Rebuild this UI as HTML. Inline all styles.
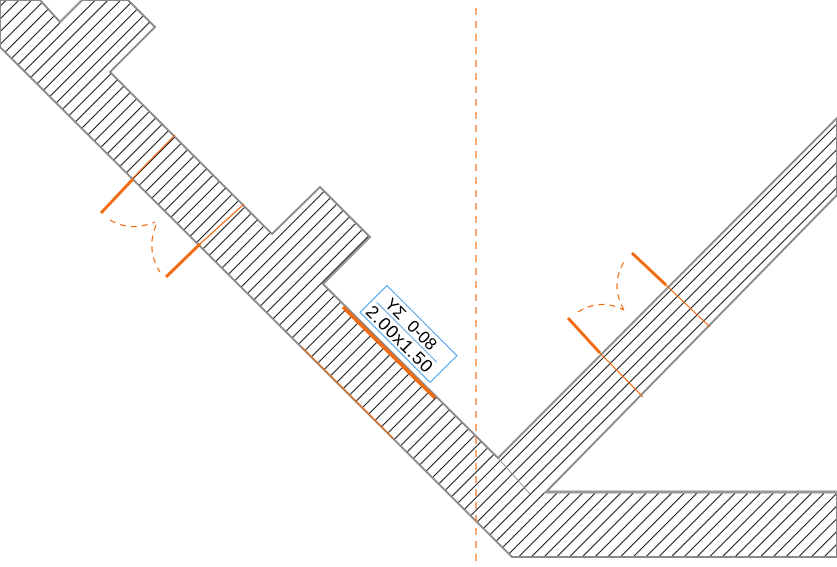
<!DOCTYPE html>
<html><head><meta charset="utf-8"><style>
html,body{margin:0;padding:0;background:#fff;width:837px;height:567px;overflow:hidden}
svg{display:block}
</style></head><body>
<svg width="837" height="567" viewBox="0 0 837 567" xmlns="http://www.w3.org/2000/svg">
<defs>
<pattern id="h" patternUnits="userSpaceOnUse" width="9" height="9" patternTransform="rotate(-45)">
<line x1="0" y1="4.5" x2="9" y2="4.5" stroke="#111" stroke-width="1"/>
</pattern>
</defs>
<polygon points="0,0 40,0 60,22 82,0 128,0 155,27 110,72 272,234 320,187 370,237 323,284 498,458 837,118 837,195 546,492 837,492 837,557 512,557 0,47" fill="url(#h)" stroke="#8a8a8a" stroke-width="2"/>
<line x1="60" y1="22" x2="82" y2="0" stroke="#999" stroke-width="2"/>
<line x1="498" y1="458" x2="530" y2="494" stroke="#999" stroke-width="1"/>
<line x1="546" y1="492" x2="837" y2="492" stroke="#999" stroke-width="3"/>
<line x1="476" y1="8" x2="476" y2="567" stroke="#f07a2a" stroke-width="1.3" stroke-dasharray="7,6"/>
<g stroke="#f26a10" fill="none">
<line x1="101" y1="213" x2="133" y2="179" stroke-width="3"/>
<line x1="133" y1="178" x2="175" y2="135" stroke-width="1.2"/>
<line x1="166" y1="277" x2="200" y2="244" stroke-width="3"/>
<line x1="200" y1="244" x2="244" y2="204" stroke-width="1.2"/>
<path d="M110 220 Q130 232 155 222" stroke-width="1.2" stroke-dasharray="6,5"/>
<path d="M156 225 Q146 250 160 272" stroke-width="1.2" stroke-dasharray="6,5"/>
<line x1="343" y1="307" x2="435" y2="398" stroke-width="3.5"/>
<line x1="302" y1="347" x2="393" y2="438" stroke-width="1.2"/>
<line x1="568" y1="318" x2="600" y2="353" stroke-width="3"/>
<line x1="600" y1="353" x2="643" y2="397" stroke-width="1.2"/>
<line x1="632" y1="253" x2="666" y2="285" stroke-width="3"/>
<line x1="666" y1="285" x2="710" y2="327" stroke-width="1.2"/>
<path d="M578 312 Q600 298 624 310" stroke-width="1.2" stroke-dasharray="6,5"/>
<path d="M624 310 Q610 285 624 262" stroke-width="1.2" stroke-dasharray="6,5"/>
</g>
<g transform="translate(408.5,334) rotate(45)">
<rect x="-49.5" y="-19" width="99" height="38" fill="#fff" stroke="#5aaaf0" stroke-width="1.2"/>
<line x1="-45" y1="0" x2="40" y2="0" stroke="#5aaaf0" stroke-width="1"/>
<text x="-38" y="-3" font-family="Liberation Sans, sans-serif" font-size="17" fill="#000" xml:space="preserve">ΥΣ  0-08</text>
<text x="-46" y="16" font-family="Liberation Sans, sans-serif" font-size="18" fill="#000" textLength="86">2.00x1.50</text>
</g>
</svg>
</body></html>
